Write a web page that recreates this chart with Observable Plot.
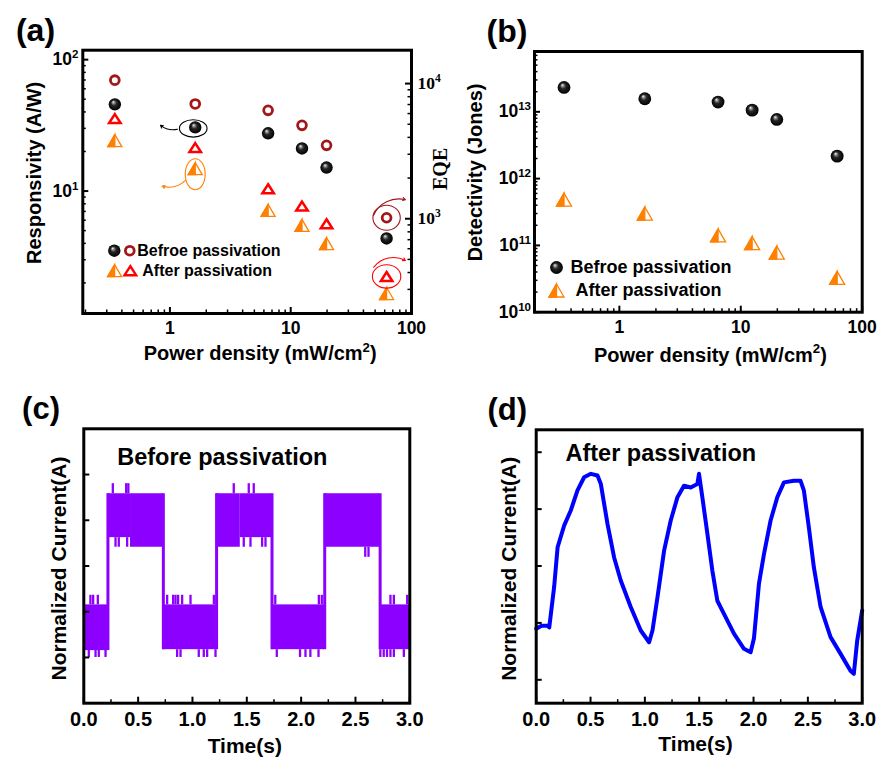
<!DOCTYPE html>
<html>
<head>
<meta charset="utf-8">
<script src="https://cdn.jsdelivr.net/npm/d3@7"></script>
<script src="https://cdn.jsdelivr.net/npm/@observablehq/plot@0.6"></script>
<style>
  html, body { margin: 0; padding: 0; background: #fff; }
  #root { position: relative; width: 878px; height: 758px; overflow: hidden; background: #fff; }
  .panel { position: absolute; }
  .panel svg { position: absolute; left: 0; top: 0; }
</style>
</head>
<body>
<svg width="0" height="0" style="position:absolute">
  <defs>
    <radialGradient id="sph" cx="0.5" cy="0.5" r="0.5" fx="0.36" fy="0.3">
      <stop offset="0" stop-color="#ffffff"/>
      <stop offset="0.16" stop-color="#a0a0a0"/>
      <stop offset="0.45" stop-color="#262626"/>
      <stop offset="1" stop-color="#000000"/>
    </radialGradient>
  </defs>
</svg>
<div id="root"></div>
<script>
// ---------------- data ----------------
const power = [0.35, 1.62, 6.5, 12.4, 19.8, 62.2];            // mW/cm^2
const respBefore = [45.7, 30.5, 27.5, 21.1, 15.1, 4.36];      // A/W
const respAfter  = [24.2, 14.8, 7.13, 5.48, 3.98, 1.66];      // A/W
const eqeBefore  = [10600, 7070, 6340, 4910, 3490, 1017];     // %
const eqeAfter   = [5510, 3360, 1667, 1240, 918, 374];        // %
const detBefore  = [2.32e13, 1.57e13, 1.40e13, 1.06e13, 7.69e12, 2.17e12]; // Jones
const detAfter   = [4.84e11, 3.0e11, 1.41e11, 1.08e11, 7.8e10, 3.27e10];   // Jones

const legendLabels = ["Befroe passivation", "After passivation"];
const panelLabels = ["(a)", "(b)", "(c)", "(d)"];
const xTitlePower = "Power density (mW/cm^{2})";
const yTitleResp = "Responsivity (A/W)";
const yTitleEqe = "EQE";
const yTitleDet = "Detectivity (Jones)";
const xTitleTime = "Time(s)";
const yTitleCurrent = "Normalized Current(A)";
const noteC = "Before passivation";
const noteD = "After passivation";

// tick values
const powerMajor = [1, 10, 100];
const powerMinor = [0.2,0.3,0.4,0.5,0.6,0.7,0.8,0.9,2,3,4,5,6,7,8,9,20,30,40,50,60,70,80,90];
const respMajor = [10, 100];
const respMinor = [2,3,4,5,6,7,8,9,20,30,40,50,60,70,80,90];
const eqeMajor = [1000, 10000];
const eqeMinor = [200,300,400,500,600,700,800,900,2000,3000,4000,5000,6000,7000,8000,9000];
const detMajor = [1e10, 1e11, 1e12, 1e13];
const detMinor = [2e10,3e10,4e10,5e10,6e10,7e10,8e10,9e10,2e11,3e11,4e11,5e11,6e11,7e11,8e11,9e11,
                  2e12,3e12,4e12,5e12,6e12,7e12,8e12,9e12,2e13,3e13,4e13,5e13,6e13,7e13];
const timeMajor = [0, 0.5, 1, 1.5, 2, 2.5, 3];
const timeMinor = [0.25, 0.75, 1.25, 1.75, 2.25, 2.75];
const currentTicks = [0, 1, 2, 3, 4];

// annotations in panel (a): [x1, y1, x2, y2] (data units)
const noteArrowBlack  = [1.155, 29.5, 0.836, 31.6];
const noteArrowOrange = [1.346, 12.06, 0.863, 10.9];
const noteArrowDark   = [48.4, 1058, 89.1, 1383];
const noteArrowRed    = [48.7, 438, 89.1, 491];

// (c) before passivation photo-switching: noisy bands [t0, t1, low, high]
const cBands = [
  [0.000, 0.220, 0.15, 1.15],
  [0.220, 0.430, 2.62, 3.58],
  [0.430, 0.730, 2.41, 3.58],
  [0.730, 1.220, 0.17, 1.15],
  [1.220, 1.440, 2.41, 3.58],
  [1.440, 1.730, 2.62, 3.58],
  [1.730, 2.215, 0.17, 1.15],
  [2.215, 2.725, 2.41, 3.58],
  [2.725, 3.000, 0.17, 1.15]
];
// switching edges [t, low, high]
const cEdges = [
  [0.222, 0.15, 3.58], [0.732, 0.17, 3.58], [1.222, 0.17, 3.58],
  [1.732, 0.17, 3.58], [2.217, 0.17, 3.58], [2.727, 0.17, 3.58]
];
// noise spikes [t, y1, y2]
const cSpikes = [
  [0.061,1.15,1.36],[0.086,1.15,1.36],[0.129,1.15,1.36],[0.767,1.15,1.36],[0.822,1.15,1.36],
  [0.844,1.15,1.36],[0.868,1.15,1.36],[0.905,1.15,1.36],[0.982,1.15,1.36],[1.197,1.15,1.36],
  [1.762,1.15,1.36],[2.163,1.15,1.36],[2.190,1.15,1.36],[2.822,1.15,1.36],[2.853,1.15,1.36],[2.976,1.15,1.36],
  [0.046,0,0.17],[0.108,0,0.17],[0.138,0,0.17],[0.200,0,0.17],[0.859,0,0.17],[0.890,0,0.17],
  [1.058,0,0.17],[1.104,0,0.17],[1.135,0,0.17],[1.212,0,0.17],[1.776,0,0.17],[1.990,0,0.17],
  [2.040,0,0.17],[2.085,0,0.17],[2.160,0,0.17],[2.729,0,0.17],[2.760,0,0.17],[2.790,0,0.17],
  [2.822,0,0.17],[2.853,0,0.17],[2.945,0,0.17],
  [0.267,3.58,3.80],[0.390,3.58,3.80],[0.410,3.58,3.80],[1.380,3.58,3.80],[1.518,3.58,3.80],[1.564,3.58,3.80],
  [0.292,2.41,2.62],[0.322,2.41,2.62],[0.399,2.41,2.62],[1.472,2.41,2.62],[1.534,2.41,2.62],
  [1.641,2.41,2.62],[1.672,2.41,2.62],[2.590,2.19,2.41],[2.620,2.19,2.41]
];

// (d) after passivation trace [t, current]
const dTrace = [
  [0.000,0.90],[0.050,0.95],[0.105,0.95],[0.120,0.92],[0.165,1.63],[0.197,2.33],[0.257,2.71],
  [0.319,2.98],[0.380,3.33],[0.441,3.56],[0.503,3.62],[0.564,3.59],[0.595,3.44],[0.656,2.74],
  [0.717,2.15],[0.778,1.745],[0.870,1.28],[0.962,0.867],[1.039,0.66],[1.070,0.867],[1.116,1.45],
  [1.177,2.27],[1.238,2.80],[1.300,3.21],[1.360,3.41],[1.422,3.38],[1.483,3.44],[1.498,3.62],
  [1.529,3.21],[1.575,2.57],[1.621,1.92],[1.667,1.39],[1.728,1.16],[1.820,0.81],[1.912,0.545],
  [1.973,0.485],[2.004,0.73],[2.050,1.69],[2.096,2.21],[2.157,2.80],[2.219,3.21],[2.280,3.47],
  [2.371,3.50],[2.432,3.50],[2.463,3.33],[2.509,2.68],[2.555,1.98],[2.617,1.28],[2.709,0.75],
  [2.800,0.46],[2.892,0.16],[2.923,0.105],[2.954,0.69],[3.000,1.22]
];

// ---------------- styling helpers ----------------
const FONT = "'Liberation Sans', Arial, Helvetica, sans-serif";
const SERIF = "'Liberation Serif', 'Times New Roman', serif";
const ORANGE = "#ff8000", DARKRED = "#a3161a", RED = "#ff0000", PURPLE = "#8c00ff", BLUE = "#0000ff";

const rows = power.map((p, i) => ({p, rb: respBefore[i], ra: respAfter[i], eb: eqeBefore[i], ea: eqeAfter[i], db: detBefore[i], da: detAfter[i]}));

const triFull = (w, h) => ({draw(c) { c.moveTo(0, -h / 2); c.lineTo(w / 2, h / 2); c.lineTo(-w / 2, h / 2); c.closePath(); }});
const triLeft = (w, h) => ({draw(c) { c.moveTo(0, -h / 2); c.lineTo(0, h / 2); c.lineTo(-w / 2, h / 2); c.closePath(); }});
const ellipse = (rx, ry) => ({draw(c) {
  const k = 0.5523;
  c.moveTo(rx, 0);
  c.bezierCurveTo(rx, ry * k, rx * k, ry, 0, ry);
  c.bezierCurveTo(-rx * k, ry, -rx, ry * k, -rx, 0);
  c.bezierCurveTo(-rx, -ry * k, -rx * k, -ry, 0, -ry);
  c.bezierCurveTo(rx * k, -ry, rx, -ry * k, rx, 0);
  c.closePath();
}});
const pow10 = d => "10^{" + Math.round(Math.log10(d)) + "}";
// centred text helper (explicit anchors)
const T = (o) => ({textAnchor: "middle", lineAnchor: "middle", fontWeight: "bold", ...o});

function applySup(svg) {
  d3.select(svg).selectAll("text").each(function () {
    const s = this.textContent;
    if (!s.includes("^{")) return;
    const parts = s.split(/\^\{([^}]*)\}/);
    const el = d3.select(this);
    el.text(null);
    parts.forEach((p, i) => {
      if (!p) return;
      const sp = el.append("tspan").text(p);
      if (i % 2 === 1) sp.attr("font-size", "0.66em").attr("dy", "-0.62em");
      else if (i > 0) sp.attr("dy", "0.41em");
    });
  });
  return svg;
}

const root = document.getElementById("root");
function place(left, top, w, h, svgs) {
  const div = document.createElement("div");
  div.className = "panel";
  div.style.left = left + "px"; div.style.top = top + "px";
  div.style.width = w + "px"; div.style.height = h + "px";
  svgs.forEach(s => div.appendChild(applySup(s)));
  root.appendChild(div);
}
const baseStyle = {background: "transparent", overflow: "visible", fontFamily: FONT};

// ---------------- panel (a) ----------------
{
  const W = 440, H = 380, ml = 82.3, mr = 29, mt = 49.7, mb = 67;
  const fw = W - ml - mr, fh = H - mt - mb;
  const common = {width: W, height: H, marginLeft: ml, marginRight: mr, marginTop: mt, marginBottom: mb, style: baseStyle};
  const left = Plot.plot({
    ...common,
    x: {type: "log", domain: [0.19, 100], axis: null},
    y: {type: "log", domain: [1.17, 118], axis: null},
    marks: [
      Plot.ruleX(powerMajor, {insetTop: fh - 6, strokeWidth: 2}),
      Plot.ruleX(powerMinor, {insetTop: fh - 3.5, strokeWidth: 1.5}),
      Plot.ruleY(respMajor, {insetRight: fw - 6, strokeWidth: 2}),
      Plot.ruleY(respMinor, {insetRight: fw - 3.5, strokeWidth: 1.5}),
      Plot.text(powerMajor, T({x: d => d, frameAnchor: "bottom", dy: 14.5, text: d => String(d), fontSize: 17.5})),
      Plot.text(respMajor, T({y: d => d, frameAnchor: "left", dx: -4.5, textAnchor: "end", text: pow10, fontSize: 17.5})),
      Plot.text([xTitlePower], T({frameAnchor: "bottom", dx: 13, dy: 40, fontSize: 20})),
      Plot.text([yTitleResp], T({frameAnchor: "left", dx: -48.3, dy: -9, rotate: -90, fontSize: 20})),
      Plot.text([panelLabels[0]], T({frameAnchor: "top-left", dx: -47.3, dy: -19, fontSize: 32})),
      // annotations
      Plot.dot(rows.slice(1, 2), {x: "p", y: "rb", dx: -2, dy: 1, symbol: ellipse(13.8, 8.7), fill: "none", stroke: "black", strokeWidth: 1.1}),
      Plot.dot(rows.slice(1, 2), {x: "p", y: "ra", dy: 5.5, symbol: ellipse(10, 15.5), fill: "none", stroke: ORANGE, strokeWidth: 1.1}),
      Plot.arrow([noteArrowBlack], {x1: d => d[0], y1: d => d[1], x2: d => d[2], y2: d => d[3], bend: 25, headLength: 4, stroke: "black", strokeWidth: 1.1}),
      Plot.arrow([noteArrowOrange], {x1: d => d[0], y1: d => d[1], x2: d => d[2], y2: d => d[3], bend: 30, headLength: 4, stroke: ORANGE, strokeWidth: 1.1}),
      // data
      Plot.dot(rows, {x: "p", y: "rb", r: 6.2, fill: "url(#sph)"}),
      Plot.dot(rows, {x: "p", y: "ra", symbol: triFull(14, 12), fill: "white", stroke: ORANGE, strokeWidth: 1.3}),
      Plot.dot(rows, {x: "p", y: "ra", symbol: triLeft(14, 12), fill: ORANGE, stroke: ORANGE, strokeWidth: 1.3}),
      // legend
      Plot.dot([0], {frameAnchor: "top-left", dx: 31.5, dy: 200.5, r: 6.2, fill: "url(#sph)"}),
      Plot.dot([0], {frameAnchor: "top-left", dx: 31.8, dy: 220.5, symbol: triFull(14, 12), fill: "white", stroke: ORANGE, strokeWidth: 1.3}),
      Plot.dot([0], {frameAnchor: "top-left", dx: 31.8, dy: 220.5, symbol: triLeft(14, 12), fill: ORANGE, stroke: ORANGE, strokeWidth: 1.3}),
      Plot.text([legendLabels[0]], T({frameAnchor: "top-left", dx: 54.5, dy: 200.5, textAnchor: "start", fontSize: 16})),
      Plot.text([legendLabels[1]], T({frameAnchor: "top-left", dx: 59.5, dy: 220.5, textAnchor: "start", fontSize: 16})),
      Plot.frame({stroke: "black", strokeWidth: 3})
    ]
  });
  const right = Plot.plot({
    ...common,
    x: {type: "log", domain: [0.19, 100], axis: null},
    y: {type: "log", domain: [199, 17660], axis: null},
    marks: [
      Plot.ruleY(eqeMajor, {insetLeft: fw - 6, strokeWidth: 2}),
      Plot.ruleY(eqeMinor, {insetLeft: fw - 3.5, strokeWidth: 1.5}),
      Plot.text(eqeMajor, T({y: d => d, frameAnchor: "right", dx: 6, textAnchor: "start", text: pow10, fontSize: 17.5, fontFamily: SERIF})),
      Plot.text([yTitleEqe], T({frameAnchor: "right", dx: 29.5, dy: -13, rotate: -90, fontSize: 20, fontFamily: SERIF})),
      Plot.dot(rows.slice(5, 6), {x: "p", y: "eb", symbol: ellipse(13.7, 12.5), fill: "none", stroke: DARKRED, strokeWidth: 1.1}),
      Plot.dot(rows.slice(5, 6), {x: "p", y: "ea", symbol: ellipse(14.2, 11.7), fill: "none", stroke: RED, strokeWidth: 1.1}),
      Plot.arrow([noteArrowDark], {x1: d => d[0], y1: d => d[1], x2: d => d[2], y2: d => d[3], bend: 40, headLength: 4, stroke: DARKRED, strokeWidth: 1.1}),
      Plot.arrow([noteArrowRed], {x1: d => d[0], y1: d => d[1], x2: d => d[2], y2: d => d[3], bend: 40, headLength: 4, stroke: RED, strokeWidth: 1.1}),
      Plot.dot(rows, {x: "p", y: "eb", r: 4.4, fill: "white", stroke: DARKRED, strokeWidth: 2.8}),
      Plot.dot(rows, {x: "p", y: "ea", symbol: triFull(11.5, 9), fill: "white", stroke: RED, strokeWidth: 2.5}),
      Plot.dot([0], {frameAnchor: "top-left", dx: 47, dy: 200.5, r: 4.4, fill: "white", stroke: DARKRED, strokeWidth: 2.8}),
      Plot.dot([0], {frameAnchor: "top-left", dx: 47.5, dy: 220.5, symbol: triFull(11.5, 9), fill: "white", stroke: RED, strokeWidth: 2.5})
    ]
  });
  place(0, 0, W, H, [left, right]);
}

// ---------------- panel (b) ----------------
{
  const W = 438, H = 380, ml = 94, mr = 16.3, mt = 51, mb = 68.3;
  const fw = W - ml - mr, fh = H - mt - mb;
  const svg = Plot.plot({
    width: W, height: H, marginLeft: ml, marginRight: mr, marginTop: mt, marginBottom: mb, style: baseStyle,
    x: {type: "log", domain: [0.2, 100], axis: null},
    y: {type: "log", domain: [1e10, 8e13], axis: null},
    marks: [
      Plot.ruleX(powerMajor, {insetTop: fh - 6, strokeWidth: 2}),
      Plot.ruleX(powerMinor, {insetTop: fh - 3.5, strokeWidth: 1.5}),
      Plot.ruleY(detMajor, {insetRight: fw - 6, strokeWidth: 2}),
      Plot.ruleY(detMinor, {insetRight: fw - 3.5, strokeWidth: 1.5}),
      Plot.text(powerMajor, T({x: d => d, frameAnchor: "bottom", dy: 15.5, text: d => String(d), fontSize: 17.5})),
      Plot.text(detMajor, T({y: d => d, frameAnchor: "left", dx: -3.5, textAnchor: "end", text: pow10, fontSize: 17.5})),
      Plot.text([xTitlePower], T({frameAnchor: "bottom", dx: 12, dy: 43, fontSize: 20})),
      Plot.text([yTitleDet], T({frameAnchor: "left", dx: -59, dy: -9.4, rotate: -90, fontSize: 20})),
      Plot.text([panelLabels[1]], T({frameAnchor: "top-left", dx: -27.5, dy: -20, fontSize: 32})),
      Plot.dot(rows, {x: "p", y: "db", r: 6.4, fill: "url(#sph)"}),
      Plot.dot(rows, {x: "p", y: "da", symbol: triFull(15, 13), fill: "white", stroke: ORANGE, strokeWidth: 1.3}),
      Plot.dot(rows, {x: "p", y: "da", symbol: triLeft(15, 13), fill: ORANGE, stroke: ORANGE, strokeWidth: 1.3}),
      Plot.dot([0], {frameAnchor: "top-left", dx: 22, dy: 216, r: 6.4, fill: "url(#sph)"}),
      Plot.dot([0], {frameAnchor: "top-left", dx: 22, dy: 239, symbol: triFull(15, 13), fill: "white", stroke: ORANGE, strokeWidth: 1.3}),
      Plot.dot([0], {frameAnchor: "top-left", dx: 22, dy: 239, symbol: triLeft(15, 13), fill: ORANGE, stroke: ORANGE, strokeWidth: 1.3}),
      Plot.text([legendLabels[0]], T({frameAnchor: "top-left", dx: 36, dy: 216, textAnchor: "start", fontSize: 18})),
      Plot.text([legendLabels[1]], T({frameAnchor: "top-left", dx: 41, dy: 239, textAnchor: "start", fontSize: 18})),
      Plot.frame({stroke: "black", strokeWidth: 3})
    ]
  });
  place(440, 0, W, H, [svg]);
}

// ---------------- panel (c) ----------------
{
  const W = 440, H = 378, ml = 83.3, mr = 30.7, mt = 48.3, mb = 55.3;
  const fw = W - ml - mr, fh = H - mt - mb;
  const svg = Plot.plot({
    width: W, height: H, marginLeft: ml, marginRight: mr, marginTop: mt, marginBottom: mb, style: baseStyle,
    x: {domain: [0, 3], axis: null},
    y: {domain: [-1, 5], axis: null},
    marks: [
      Plot.rect(cBands, {x1: d => d[0], x2: d => d[1], y1: d => d[2], y2: d => d[3], fill: PURPLE}),
      Plot.ruleX(cEdges, {x: d => d[0], y1: d => d[1], y2: d => d[2], stroke: PURPLE, strokeWidth: 3}),
      Plot.ruleX(cSpikes, {x: d => d[0], y1: d => d[1], y2: d => d[2], stroke: PURPLE, strokeWidth: 2.3}),
      Plot.ruleX(timeMajor, {insetTop: fh - 6, strokeWidth: 2}),
      Plot.ruleX(timeMinor, {insetTop: fh - 3.5, strokeWidth: 1.5}),
      Plot.ruleY(currentTicks, {insetRight: fw - 6, strokeWidth: 2}),
      Plot.text(timeMajor, T({x: d => d, frameAnchor: "bottom", dy: 16.3, text: d => d.toFixed(1), fontSize: 20})),
      Plot.text([xTitleTime], T({frameAnchor: "bottom", dx: -2, dy: 43.3, fontSize: 21})),
      Plot.text([yTitleCurrent], T({frameAnchor: "left", dx: -24.3, dy: 2.5, rotate: -90, fontSize: 21})),
      Plot.text([noteC], T({frameAnchor: "top-left", dx: 33.4, dy: 28.4, textAnchor: "start", fontSize: 23.5})),
      Plot.text([panelLabels[2]], T({frameAnchor: "top-left", dx: -42.8, dy: -19.5, fontSize: 31})),
      Plot.frame({stroke: "black", strokeWidth: 3})
    ]
  });
  place(0, 380, W, H, [svg]);
}

// ---------------- panel (d) ----------------
{
  const W = 438, H = 378, ml = 95.7, mr = 16.3, mt = 49.3, mb = 55.3;
  const fw = W - ml - mr, fh = H - mt - mb;
  const svg = Plot.plot({
    width: W, height: H, marginLeft: ml, marginRight: mr, marginTop: mt, marginBottom: mb, style: baseStyle,
    x: {domain: [0, 3], axis: null},
    y: {domain: [-0.411, 4.394], axis: null},
    marks: [
      Plot.line(dTrace, {x: d => d[0], y: d => d[1], stroke: BLUE, strokeWidth: 4, strokeLinejoin: "round"}),
      Plot.ruleX(timeMajor, {insetTop: fh - 6, strokeWidth: 2}),
      Plot.ruleX(timeMinor, {insetTop: fh - 3.5, strokeWidth: 1.5}),
      Plot.ruleY(currentTicks, {insetRight: fw - 6, strokeWidth: 2}),
      Plot.text(timeMajor, T({x: d => d, frameAnchor: "bottom", dy: 16.3, text: d => d.toFixed(1), fontSize: 20})),
      Plot.text([xTitleTime], T({frameAnchor: "bottom", dx: -3.7, dy: 41.3, fontSize: 21})),
      Plot.text([yTitleCurrent], T({frameAnchor: "left", dx: -27.4, dy: 2.3, rotate: -90, fontSize: 21})),
      Plot.text([noteD], T({frameAnchor: "top-left", dx: 29.3, dy: 24, textAnchor: "start", fontSize: 23.5})),
      Plot.text([panelLabels[3]], T({frameAnchor: "top-left", dx: -29, dy: -19.5, fontSize: 31})),
      Plot.frame({stroke: "black", strokeWidth: 3})
    ]
  });
  place(440, 380, W, H, [svg]);
}
</script>
</body>
</html>
